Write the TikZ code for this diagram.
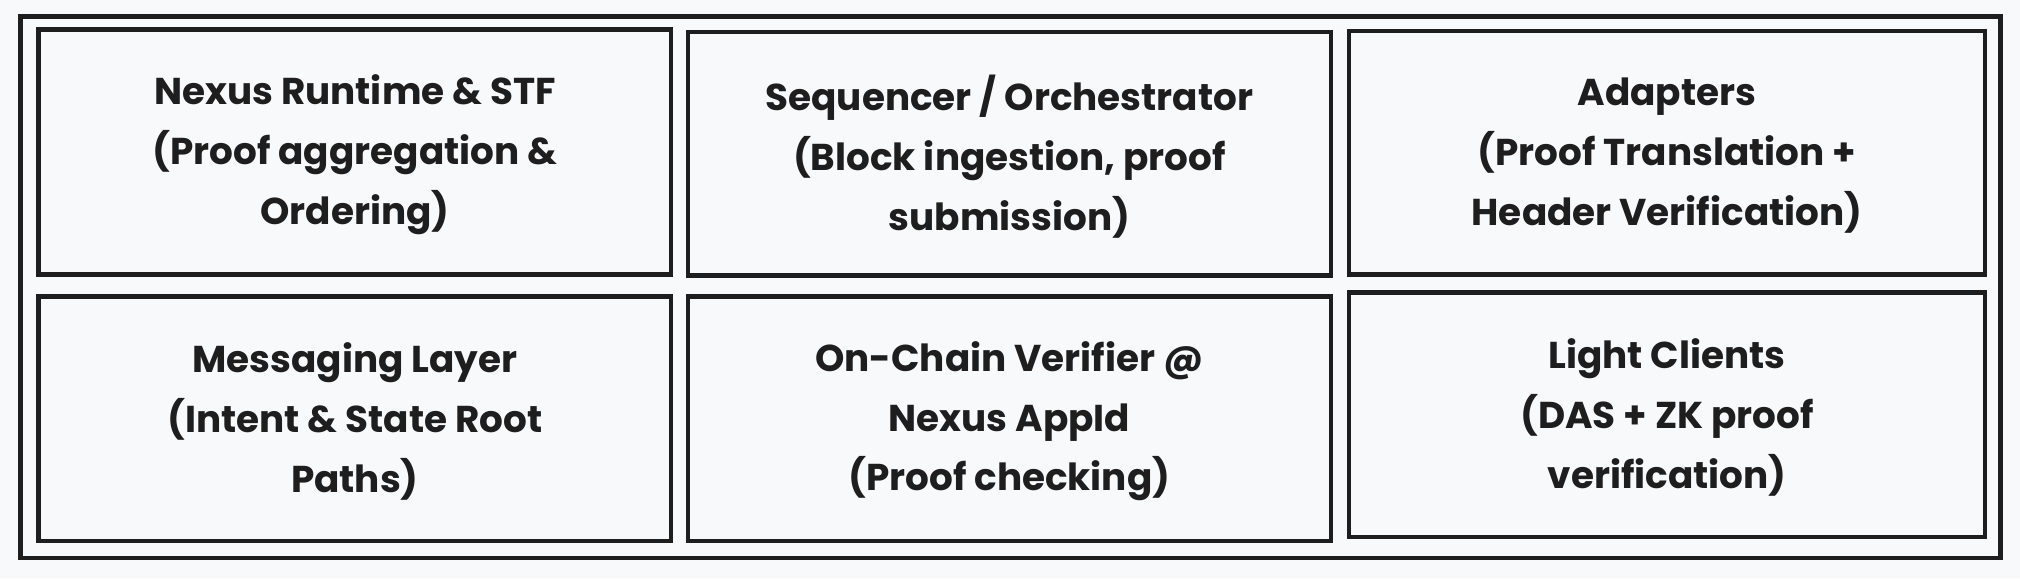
\documentclass[tikz,border=0pt]{standalone}
\usepackage{fontspec}
\setmainfont{Poppins}
\definecolor{bg}{HTML}{F8F9FB}
\definecolor{ink}{HTML}{1E1E1E}
\begin{document}
\begin{tikzpicture}[x=1pt,y=-1pt,
  cell/.style={align=center,inner sep=0pt,
    font=\fontsize{29}{46.5}\selectfont\bfseries\color{ink}}]
\fill[bg] (0,0) rectangle (1568,449);
\useasboundingbox (0,0) rectangle (1568,449);
\draw[ink,line width=3.5pt] (16,13) rectangle (1553,433);
\newcommand\cellbox[6]{%
  \draw[ink,line width=3.5pt] (#2,#3) rectangle (#4,#5);
  \node[cell] (#1) at ({(#2+#4)/2},{(#3+#5)/2+2}) {#6};}
\cellbox{a}{30}{23}{521}{213}{Nexus Runtime \& STF\\(Proof aggregation \&\\Ordering)}
\cellbox{b}{534}{25}{1033}{214}{Sequencer / Orchestrator\\(Block ingestion, proof\\submission)}
\cellbox{c}{1047}{24}{1541}{213}{Adapters\\(Proof Translation +\\Header Verification)}
\cellbox{d}{30}{230}{521}{420}{Messaging Layer\\(Intent \& State Root\\Paths)}
\cellbox{e}{534}{230}{1033}{420}{On-Chain Verifier @\\Nexus AppId\\(Proof checking)}
\cellbox{f}{1047}{227}{1541}{417}{Light Clients\\(DAS + ZK proof\\verification)}
\end{tikzpicture}
\end{document}
